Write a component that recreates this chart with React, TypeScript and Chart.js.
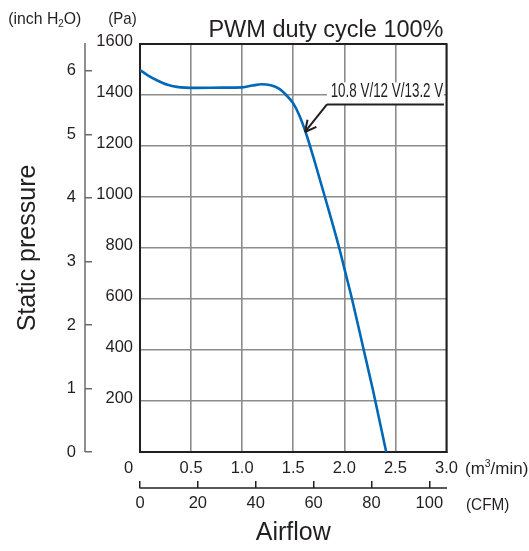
import React, { useEffect, useRef } from 'react';
import { Chart, registerables } from 'chart.js';

Chart.register(...registerables);

// ---- data ----
const flowM3Min = [0, 0.08, 0.17, 0.27, 0.36, 0.55, 0.8, 1.0, 1.1, 1.19, 1.28, 1.36, 1.43, 1.5, 1.56, 1.62, 1.7, 1.81, 1.95, 2.0, 2.075, 2.19, 2.28, 2.41];
const pressurePa = [1498, 1476, 1457, 1440, 1432, 1428, 1429, 1430, 1437, 1442, 1438, 1425, 1400, 1367, 1320, 1256, 1152, 1000, 800, 720, 600, 400, 243, 0];

const PA_PER_INH2O = 249.0889;
const M3MIN_PER_CFM = 0.0283168;
const FLOW_MAX = 3;
const PA_MAX = 1600;

const TITLE = 'PWM duty cycle 100%';
const VOLT_LABEL = '10.8 V/12 V/13.2 V';
const UNIT_INCH_PARTS = [
  { t: '(inch H', sub: false },
  { t: '2', sub: true },
  { t: 'O)', sub: false },
];
const UNIT_PA = '(Pa)';
const UNIT_M3_PARTS = [
  { t: '(m', sub: false },
  { t: '3', sup: true },
  { t: '/min)', sub: false },
];
const UNIT_CFM = '(CFM)';
const X_TITLE = 'Airflow';
const Y_TITLE = 'Static pressure';

// annotation anchors in data units (m3/min, Pa)
const LABEL_START = [1.83, 1363];
const LABEL_END_FLOW = 2.975;
const ARROW_TIP = [1.615, 1255];

// ---- styles ----
const SANS = "'Liberation Sans', Arial, sans-serif";
const TEXT = '#231f20';
const GRID = '#8c8c8c';
const FRAME = '#231f20';
const AXIS_GRAY = '#6a6a6a';
const CURVE = '#0068b7';
const TICK_LEN = 7;

function line(ctx: CanvasRenderingContext2D, x0: number, y0: number, x1: number, y1: number) {
  ctx.beginPath();
  ctx.moveTo(x0, y0);
  ctx.lineTo(x1, y1);
  ctx.stroke();
}

type Part = { t: string; sub?: boolean; sup?: boolean };

// draws condensed text: parts drawn left-aligned at (x, baseline y), squeezed to the given width
function drawCondensed(ctx: CanvasRenderingContext2D, parts: Part[], x: number, y: number, size: number, width: number, align: 'left' | 'right' = 'left') {
  const small = size * 0.62;
  let total = 0;
  for (const p of parts) {
    ctx.font = `${p.sub || p.sup ? small : size}px ${SANS}`;
    total += ctx.measureText(p.t).width;
  }
  const sx = width / total;
  ctx.save();
  ctx.translate(align === 'left' ? x : x - width, y);
  ctx.scale(sx, 1);
  ctx.textAlign = 'left';
  ctx.textBaseline = 'alphabetic';
  let cx = 0;
  for (const p of parts) {
    ctx.font = `${p.sub || p.sup ? small : size}px ${SANS}`;
    const dy = p.sub ? size * 0.18 : p.sup ? -size * 0.38 : 0;
    ctx.fillText(p.t, cx, dy);
    cx += ctx.measureText(p.t).width;
  }
  ctx.restore();
}

const overlayPlugin = {
  id: 'overlay',
  beforeDatasetsDraw(chart: any) {
    const { ctx, chartArea: a, scales } = chart;
    ctx.save();
    ctx.strokeStyle = FRAME;
    ctx.lineWidth = 2;
    ctx.strokeRect(a.left, a.top, a.right - a.left, a.bottom - a.top);
    // inch H2O axis line
    const y2 = scales.y2;
    const lx = y2.right - TICK_LEN;
    ctx.strokeStyle = AXIS_GRAY;
    ctx.lineWidth = 1.5;
    line(ctx, lx, a.top - 1, lx, a.bottom);
    // CFM axis line
    const x2 = scales.x2;
    const ly = x2.top + TICK_LEN;
    ctx.strokeStyle = FRAME;
    ctx.lineWidth = 1.7;
    line(ctx, a.left - 0.5, ly, a.right + 0.5, ly);
    ctx.restore();
  },
  afterDatasetsDraw(chart: any) {
    const { ctx, scales } = chart;
    const xs = scales.x;
    const ys = scales.y;
    const lx0 = xs.getPixelForValue(LABEL_START[0]);
    const ly = ys.getPixelForValue(LABEL_START[1]);
    const lx1 = xs.getPixelForValue(LABEL_END_FLOW);
    const tipX = xs.getPixelForValue(ARROW_TIP[0]);
    const tipY = ys.getPixelForValue(ARROW_TIP[1]);
    ctx.save();
    ctx.fillStyle = '#ffffff';
    ctx.fillRect(lx0, ly - 22, lx1 - lx0, 22);
    ctx.fillStyle = TEXT;
    drawCondensed(ctx, [{ t: VOLT_LABEL }], lx1 - 0.7, ly - 7, 19.5, 112.6, 'right');
    ctx.strokeStyle = TEXT;
    ctx.lineWidth = 2;
    line(ctx, lx0, ly, lx1, ly);
    line(ctx, lx0, ly, tipX, tipY);
    const ang = Math.atan2(ly - tipY, lx0 - tipX);
    for (const s of [-1, 1]) {
      const aa = ang + s * 0.47;
      line(ctx, tipX, tipY, tipX + 12.5 * Math.cos(aa), tipY + 12.5 * Math.sin(aa));
    }
    ctx.restore();
  },
  afterDraw(chart: any) {
    const { ctx, chartArea: a, scales } = chart;
    ctx.save();
    ctx.fillStyle = TEXT;
    // title
    ctx.font = `23.5px ${SANS}`;
    ctx.textAlign = 'right';
    ctx.textBaseline = 'alphabetic';
    ctx.fillText(TITLE, a.right - 3, 36.7);
    // units
    drawCondensed(ctx, UNIT_INCH_PARTS, scales.y2.left + 8.3, 23.5, 17, 73);
    drawCondensed(ctx, [{ t: UNIT_PA }], scales.y.left + 16.3, 23.5, 17, 28.4);
    drawCondensed(ctx, UNIT_M3_PARTS, a.right + 18.5, 473.5, 17, 63.3);
    drawCondensed(ctx, [{ t: UNIT_CFM }], a.right + 19.5, 510, 17, 43.3);
    ctx.restore();
  },
};

export default function App() {
  const ref = useRef<HTMLCanvasElement | null>(null);
  useEffect(() => {
    if (!ref.current) return;
    const points = flowM3Min.map((x, i) => ({ x, y: pressurePa[i] }));
    const tickFont = { family: SANS, size: 16.5, lineHeight: 1.2 };
    const chart = new Chart(ref.current, {
      type: 'line',
      data: {
        datasets: [
          {
            data: points,
            borderColor: CURVE,
            borderWidth: 2.6,
            pointRadius: 0,
            fill: false,
            cubicInterpolationMode: 'monotone',
          },
        ],
      },
      options: {
        responsive: false,
        animation: false,
        layout: { padding: { left: 0, right: 82.5, top: 44, bottom: 0 } },
        plugins: { legend: { display: false }, tooltip: { enabled: false }, title: { display: false } },
        scales: {
          x: {
            type: 'linear',
            position: 'bottom',
            weight: 0,
            min: 0,
            max: FLOW_MAX,
            afterFit: (s: any) => { s.height = 29; },
            grid: { color: GRID, lineWidth: 1.6, drawTicks: false },
            border: { display: true, color: FRAME, width: 2 },
            ticks: {
              stepSize: 0.5,
              padding: 7,
              color: TEXT,
              font: tickFont,
              maxRotation: 0,
              autoSkip: false,
              callback: (v: any) => (Number(v) === 0 ? '0     ' : Number(v).toFixed(1)),
            },
          },
          x2: {
            type: 'linear',
            position: 'bottom',
            weight: 1,
            min: 0,
            max: FLOW_MAX / M3MIN_PER_CFM,
            afterFit: (s: any) => { s.height = 70; },
            grid: { drawOnChartArea: false, drawTicks: true, tickLength: TICK_LEN, color: FRAME, lineWidth: 1.5 },
            border: { display: false },
            ticks: { stepSize: 20, includeBounds: false, padding: 5.8, color: TEXT, font: tickFont, maxRotation: 0, autoSkip: false },
            title: { display: true, text: X_TITLE, color: TEXT, font: { family: SANS, size: 25, lineHeight: 1.2 }, padding: { top: 0, bottom: 2.5 } },
          },
          y: {
            type: 'linear',
            position: 'left',
            weight: 0,
            min: 0,
            max: PA_MAX,
            afterFit: (s: any) => { s.width = 48; },
            grid: { color: GRID, lineWidth: 1.6, drawTicks: false },
            border: { display: true, color: FRAME, width: 2 },
            ticks: {
              stepSize: 200,
              padding: 7,
              labelOffset: -2.5,
              color: TEXT,
              font: tickFont,
              callback: (v: any) => (Number(v) === 0 ? '' : String(v)),
            },
          },
          y2: {
            type: 'linear',
            position: 'left',
            weight: 1,
            min: 0,
            max: PA_MAX / PA_PER_INH2O,
            afterFit: (s: any) => { s.width = 92; },
            grid: { drawOnChartArea: false, drawTicks: true, tickLength: TICK_LEN, color: AXIS_GRAY, lineWidth: 1.5 },
            border: { display: false },
            ticks: { stepSize: 1, includeBounds: false, padding: 9, color: TEXT, font: tickFont },
            title: { display: true, text: Y_TITLE, color: TEXT, font: { family: SANS, size: 25, lineHeight: 1.2 }, padding: { top: 13, bottom: 0 } },
          },
        },
      },
      plugins: [overlayPlugin],
    } as any);
    return () => chart.destroy();
  }, []);
  return (
    <div style={{ position: 'fixed', left: 0, top: 0, width: 529, height: 551, background: '#fff' }}>
      <canvas ref={ref} width={529} height={551} style={{ width: 529, height: 551, display: 'block' }} />
    </div>
  );
}
